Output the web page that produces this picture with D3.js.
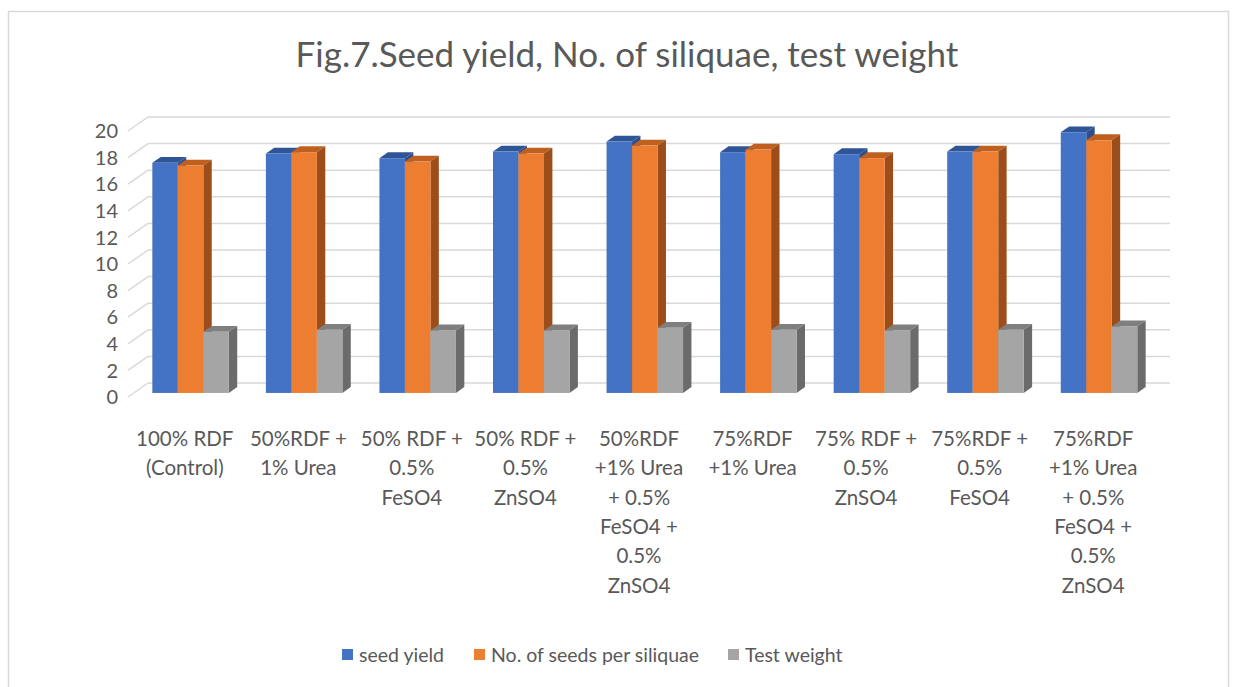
<!DOCTYPE html>
<html>
<head>
<meta charset="utf-8">
<script src="https://cdn.jsdelivr.net/npm/d3@7"></script>
<style>
  body { margin: 0; background: #fff; }
  svg text { font-family: Lato, "Open Sans", sans-serif; fill: #595959; }
</style>
</head>
<body>
<svg id="chart" width="1235" height="687"></svg>
<script>
const categories = [
  "100% RDF\n(Control)",
  "50%RDF +\n1% Urea",
  "50% RDF +\n0.5%\nFeSO4",
  "50% RDF +\n0.5%\nZnSO4",
  "50%RDF\n+1% Urea\n+ 0.5%\nFeSO4 +\n0.5%\nZnSO4",
  "75%RDF\n+1% Urea",
  "75% RDF +\n0.5%\nZnSO4",
  "75%RDF +\n0.5%\nFeSO4",
  "75%RDF\n+1% Urea\n+ 0.5%\nFeSO4 +\n0.5%\nZnSO4"
];
const seriesNames = ["seed yield", "No. of seeds per siliquae", "Test weight"];
const seedYield   = [17.3, 18.0, 17.65, 18.15, 18.9, 18.1, 17.95, 18.15, 19.6];
const seedsPerSil = [17.1, 18.1, 17.4, 18.0, 18.6, 18.3, 17.65, 18.15, 19.0];
const testWeight  = [4.6, 4.75, 4.7, 4.7, 4.9, 4.75, 4.7, 4.75, 5.0];
const yTicks = [0, 2, 4, 6, 8, 10, 12, 14, 16, 18, 20];

const colors = [
  { front: "#4472C4", top: "#2F5597", side: "#2E4F8E" },
  { front: "#ED7D31", top: "#C0601F", side: "#9C4D1A" },
  { front: "#A5A5A5", top: "#7F7F7F", side: "#6B6B6B" }
];

const svg = d3.select("#chart");
const values = [seedYield, seedsPerSil, testWeight];

// oblique projection: depth t in [0,1] from front plane to back wall
const depthX = 20, depthY = -14;
const off = t => [depthX * t, depthY * t];

const y = d3.scaleLinear().domain([0, 20]).range([397, 131]);
const x = d3.scaleBand().domain(categories).range([128, 1150]);
const groupWidth = 76.5;
const xs = d3.scaleBand().domain(seriesNames).range([0, groupWidth]);

// outer frame
svg.append("rect")
  .attr("x", 8.5).attr("y", 11.5)
  .attr("width", 1220).attr("height", 690)
  .attr("fill", "none").attr("stroke", "#D9D9D9").attr("stroke-width", 1.5);

// title
svg.append("text")
  .attr("x", 627).attr("y", 67)
  .attr("text-anchor", "middle")
  .style("font-size", "35px")
  .text("Fig.7.Seed yield, No. of siliquae, test weight");

// gridlines on side wall and back wall
const grid = svg.append("g").attr("stroke", "#D9D9D9").attr("stroke-width", 1.5).attr("fill", "none");
const [bx, by] = off(1);
for (const v of yTicks)
{
  grid.append("line")
    .attr("x1", x.range()[0]).attr("y1", y(v))
    .attr("x2", x.range()[0] + bx).attr("y2", y(v) + by);
  grid.append("line")
    .attr("x1", x.range()[0] + bx).attr("y1", y(v) + by)
    .attr("x2", x.range()[1] + bx).attr("y2", y(v) + by);
}

// y labels
svg.append("g").selectAll("text").data(yTicks).join("text")
  .attr("x", 118).attr("y", d => y(d))
  .attr("dy", "0.36em")
  .attr("text-anchor", "end")
  .style("font-size", "20px")
  .text(d => d);

// bars
const t0 = 0.29, t1 = 0.71;
const [fx, fy] = off(t0);
const dx = depthX * (t1 - t0), dy = depthY * (t1 - t0);
const bars = svg.append("g");
categories.forEach((cat, i) =>
{
  const gx = x(cat) + (x.bandwidth() - groupWidth) / 2 + fx;
  seriesNames.forEach((s, k) =>
  {
    const v = values[k][i];
    const x0 = gx + xs(s), x1 = x0 + xs.bandwidth();
    const yTop = y(v) + fy, yBot = y(0) + fy;
    const c = colors[k];
    bars.append("polygon")
      .attr("points", [[x0, yTop], [x0 + dx, yTop + dy], [x1 + dx, yTop + dy], [x1, yTop]].join(" "))
      .attr("fill", c.top);
    bars.append("polygon")
      .attr("points", [[x1, yTop], [x1 + dx, yTop + dy], [x1 + dx, yBot + dy], [x1, yBot]].join(" "))
      .attr("fill", c.side);
    bars.append("rect")
      .attr("x", x0).attr("y", yTop)
      .attr("width", x1 - x0).attr("height", yBot - yTop)
      .attr("fill", c.front);
  });
});

// category labels
const labels = svg.append("g");
for (const cat of categories)
{
  const t = labels.append("text")
    .attr("x", x(cat) + x.bandwidth() / 2)
    .attr("y", 446)
    .attr("text-anchor", "middle")
    .style("font-size", "20.5px");
  cat.split("\n").forEach((line, j) =>
  {
    t.append("tspan")
      .attr("x", x(cat) + x.bandwidth() / 2)
      .attr("dy", j === 0 ? 0 : 29.3)
      .text(line);
  });
}

// legend
const legendX = [342, 474, 728];
const legend = svg.append("g");
seriesNames.forEach((s, k) =>
{
  legend.append("rect")
    .attr("x", legendX[k]).attr("y", 649)
    .attr("width", 11).attr("height", 11)
    .attr("fill", colors[k].front);
  legend.append("text")
    .attr("x", legendX[k] + 17).attr("y", 662)
    .style("font-size", "19.5px")
    .text(s);
});
</script>
</body>
</html>
